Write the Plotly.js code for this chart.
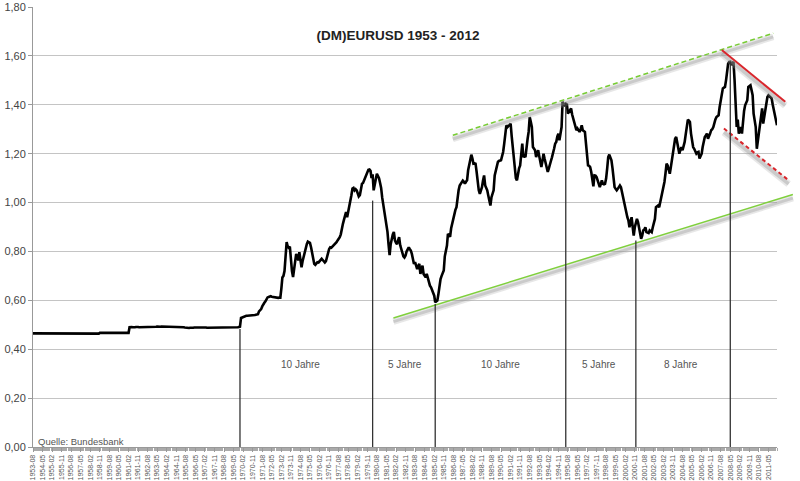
<!DOCTYPE html>
<html><head><meta charset="utf-8">
<script src="https://cdn.plot.ly/plotly-3.0.1.min.js"></script>
<style>html,body{margin:0;padding:0;background:#fff}#chart{width:800px;height:481px}</style>
</head><body><div id="chart"></div>
<script>
// ---- data (monthly, USD per EUR / DM equivalent), first month 1953-08 ----
const startMonth = [1953, 8];
const rate1950s = [
 0.465,0.465,0.465,0.465,0.465,
 0.465,0.465,0.465,0.465,0.465,0.465,0.465,0.465,0.465,0.465,0.465,0.465,
 0.465,0.465,0.465,0.465,0.462,0.462,0.462,0.462,0.462,0.462,0.462,0.462,
 0.462,0.462,0.462,0.462,0.462,0.462,0.462,0.464,0.464,0.464,0.464,0.464,
 0.464,0.464,0.464,0.464,0.464,0.464,0.464,0.464,0.464,0.464,0.464,0.464,
 0.464,0.464,0.464,0.464,0.464,0.464,0.464,0.464,0.464,0.464,0.467,0.467,
 0.467,0.467,0.467,0.467,0.467,0.467,0.467,0.467,0.467,0.467,0.467,0.467
];
const rate1960s = [
 0.467,0.467,0.467,0.467,0.467,0.467,0.467,0.467,0.467,0.467,0.467,0.467,
 0.467,0.467,0.490,0.492,0.491,0.490,0.489,0.490,0.491,0.492,0.491,0.490,
 0.490,0.490,0.491,0.492,0.491,0.490,0.490,0.489,0.489,0.489,0.490,0.490,
 0.491,0.492,0.492,0.492,0.493,0.492,0.492,0.492,0.493,0.493,0.492,0.492,
 0.493,0.493,0.493,0.492,0.492,0.493,0.493,0.493,0.492,0.492,0.493,0.493,
 0.493,0.492,0.491,0.490,0.490,0.490,0.489,0.488,0.488,0.488,0.487,0.488,
 0.487,0.487,0.488,0.489,0.489,0.489,0.490,0.491,0.491,0.492,0.492,0.491,
 0.490,0.489,0.489,0.488,0.488,0.488,0.487,0.487,0.488,0.488,0.489,0.489,
 0.488,0.487,0.488,0.489,0.488,0.487,0.488,0.489,0.490,0.489,0.487,0.488,
 0.489,0.488,0.488,0.489,0.490,0.489,0.488,0.489,0.490,0.491,0.492,0.528
];
const rate1970s = [
 0.530,0.531,0.535,0.537,0.537,0.537,0.537,0.538,0.538,0.538,0.538,0.539,
 0.540,0.541,0.541,0.543,0.555,0.560,0.564,0.575,0.585,0.590,0.596,0.605,
 0.612,0.614,0.616,0.617,0.615,0.614,0.612,0.611,0.612,0.610,0.610,0.611,
 0.611,0.650,0.694,0.700,0.720,0.780,0.838,0.820,0.815,0.820,0.760,0.720,
 0.695,0.730,0.760,0.790,0.780,0.763,0.797,0.770,0.735,0.760,0.780,0.790,
 0.810,0.831,0.840,0.838,0.835,0.817,0.790,0.763,0.749,0.745,0.750,0.756,
 0.755,0.760,0.765,0.770,0.765,0.760,0.755,0.760,0.780,0.804,0.810,0.817,
 0.815,0.820,0.824,0.825,0.830,0.838,0.845,0.850,0.858,0.870,0.886,0.913,
 0.930,0.955,0.961,0.940,0.960,0.988,1.009,1.030,1.057,1.060,1.050,1.055,
 1.050,1.040,1.025,1.030,1.050,1.077,1.080,1.090,1.104,1.110,1.120,1.134
];
const rate1980s = [
 1.135,1.130,1.100,1.115,1.050,1.080,1.095,1.118,1.110,1.100,1.080,1.060,
 1.020,0.990,0.975,0.930,0.900,0.880,0.830,0.785,0.830,0.860,0.870,0.880,
 0.845,0.835,0.830,0.845,0.858,0.825,0.810,0.790,0.780,0.775,0.783,0.800,
 0.810,0.817,0.810,0.804,0.790,0.770,0.749,0.756,0.740,0.728,0.740,0.749,
 0.708,0.725,0.742,0.708,0.700,0.694,0.708,0.690,0.674,0.660,0.653,0.640,
 0.630,0.619,0.592,0.596,0.599,0.626,0.660,0.687,0.700,0.715,0.722,0.780,
 0.800,0.824,0.872,0.865,0.860,0.895,0.913,0.940,0.961,0.970,0.981,1.020,
 1.050,1.070,1.075,1.080,1.090,1.085,1.077,1.085,1.091,1.132,1.160,1.180,
 1.196,1.180,1.159,1.160,1.159,1.125,1.080,1.050,1.036,1.050,1.063,1.090,
 1.111,1.070,1.060,1.050,1.029,1.005,0.988,1.022,1.035,1.050,1.111,1.130
];
const rate1990s = [
 1.145,1.166,1.170,1.173,1.173,1.190,1.207,1.241,1.280,1.316,1.309,1.315,
 1.320,1.323,1.275,1.230,1.186,1.132,1.100,1.091,1.125,1.140,1.152,1.200,
 1.241,1.186,1.190,1.186,1.241,1.260,1.289,1.350,1.330,1.309,1.227,1.220,
 1.214,1.186,1.200,1.214,1.190,1.173,1.145,1.170,1.200,1.180,1.160,1.145,
 1.125,1.140,1.159,1.170,1.185,1.200,1.220,1.241,1.248,1.270,1.282,1.255,
 1.280,1.309,1.412,1.405,1.398,1.400,1.405,1.364,1.370,1.378,1.385,1.360,
 1.344,1.330,1.310,1.296,1.303,1.295,1.289,1.300,1.316,1.296,1.290,1.289,
 1.241,1.200,1.152,1.150,1.145,1.125,1.090,1.066,1.111,1.110,1.104,1.090,
 1.084,1.063,1.075,1.091,1.077,1.075,1.077,1.098,1.140,1.186,1.196,1.185,
 1.173,1.140,1.104,1.063,1.056,1.050,1.056,1.065,1.070,1.063,1.040,1.022
];
const rate2000s = [
 0.995,0.975,0.954,0.940,0.927,0.899,0.920,0.940,0.900,0.865,0.899,0.915,
 0.933,0.920,0.900,0.886,0.852,0.865,0.886,0.890,0.899,0.879,0.877,0.875,
 0.886,0.882,0.879,0.899,0.915,0.933,0.981,0.985,0.988,0.981,1.000,1.022,
 1.040,1.063,1.084,1.120,1.159,1.152,1.130,1.118,1.145,1.170,1.200,1.230,
 1.261,1.268,1.245,1.227,1.200,1.215,1.227,1.214,1.230,1.248,1.280,1.309,
 1.339,1.335,1.330,1.282,1.250,1.227,1.220,1.210,1.200,1.205,1.207,1.180,
 1.190,1.200,1.227,1.250,1.268,1.275,1.282,1.261,1.270,1.282,1.296,1.300,
 1.309,1.330,1.340,1.350,1.355,1.357,1.391,1.420,1.453,1.467,1.470,1.473,
 1.501,1.530,1.569,1.575,1.576,1.562,1.570,1.576,1.501,1.400,1.309,1.339,
 1.282,1.295,1.309,1.282,1.350,1.375,1.398,1.410,1.419,1.473,1.475,1.480
];
const rate2010s = [
 1.460,1.439,1.364,1.340,1.309,1.220,1.250,1.282,1.330,1.360,1.385,1.323,
 1.350,1.385,1.410,1.432,1.439,1.435,1.432,1.426,1.400,1.378,1.371,1.340,
 1.316
];
const rateSeries = [].concat(rate1950s, rate1960s, rate1970s, rate1980s, rate1990s, rate2000s, rate2010s);
const monthDates = rateSeries.map((_, i) => {
  const t = startMonth[1] - 1 + i;
  const y = startMonth[0] + Math.floor(t / 12);
  const m = t % 12 + 1;
  return y + '-' + String(m).padStart(2, '0') + '-01';
});

// cycle markers (vertical lines) and their labels
const cycleDates = ['1969-11-01','1980-04-01','1985-03-01','1995-06-01','2000-12-01','2008-05-01'];
const cycleTops  = [0.483, 1.008, 0.585, 1.41, 0.845, 1.576];
const cycleLabels = ['10 Jahre','5 Jahre','10 Jahre','5 Jahre','8 Jahre'];
const cycleLabelDates = ['1974-07-20','1982-10-18','1990-04-06','1998-01-15','2004-06-21'];
const cycleLabelLevel = 0.337;

// trend channel lines (start/end)
const upperGreenDates = ['1986-07-19','2011-09-15'];
const upperGreenVals  = [1.275, 1.693];
const lowerGreenDates = ['1981-11-19','2013-04-01'];
const lowerGreenVals  = [0.528, 1.033];
const redTopDates = ['2007-09-01','2012-08-25'];
const redTopVals  = [1.624, 1.412];
const redLowDates = ['2007-11-01','2012-11-28'];
const redLowVals  = [1.303, 1.091];

// ---- layout geometry ----
const W = 800, H = 481, plotLeft = 33, plotRight = 777;
const D = (plotRight - plotLeft) / (W - plotLeft);
const xStart = '1953-08-01', xEnd = '2012-01-01';
const r0 = Date.parse(xStart), r1 = Date.parse(xEnd);
const r2 = r0 + (r1 - r0) / D;
const x2End = new Date(r2).toISOString().replace('T', ' ').slice(0, 19);
const FONT = 'Liberation Sans, Arial, sans-serif';

function shadow(vals) { return vals.map(v => v - 0.015); }
function trend(dates, vals, color, width, dash) {
  return [
    {x: dates, y: shadow(vals), xaxis: 'x2', yaxis: 'y2', mode: 'lines', hoverinfo: 'skip', showlegend: false,
     line: {color: 'rgba(170,170,170,0.28)', width: width + 5}},
    {x: dates, y: shadow(vals), xaxis: 'x2', yaxis: 'y2', mode: 'lines', hoverinfo: 'skip', showlegend: false,
     line: {color: 'rgba(150,150,150,0.35)', width: width + 1.5}},
    {x: dates, y: vals, xaxis: 'x2', yaxis: 'y2', mode: 'lines', hoverinfo: 'skip', showlegend: false,
     line: {color: color, width: width, dash: dash || 'solid'}}
  ];
}

const traces = [
  {x: monthDates, y: rateSeries, mode: 'lines', name: 'EURUSD', showlegend: false,
   line: {color: '#000000', width: 2.6}, xaxis: 'x', yaxis: 'y'}
].concat(
  trend(upperGreenDates, upperGreenVals, '#77cc33', 1.5, '5px,3px'),
  trend(lowerGreenDates, lowerGreenVals, '#7fd03c', 1.5),
  trend(redTopDates, redTopVals, '#d9262c', 2),
  trend(redLowDates, redLowVals, '#d9262c', 2, '4px,3px')
);

const shapes = cycleDates.map((d, i) => ({
  type: 'line', xref: 'x', yref: 'y', x0: d, x1: d, y0: 0, y1: cycleTops[i],
  line: {color: '#333333', width: 1.3}, layer: 'above'
}));

const annotations = cycleLabels.map((t, i) => ({
  text: t, xref: 'x', yref: 'y', x: cycleLabelDates[i], y: cycleLabelLevel,
  showarrow: false, font: {family: FONT, size: 10, color: '#555555'}
})).concat([{
  text: 'Quelle: Bundesbank', xref: 'paper', yref: 'paper', x: 0.004, y: 0.0136,
  xanchor: 'left', yanchor: 'middle', showarrow: false,
  font: {family: FONT, size: 9.5, color: '#555555'}
}]);

const layout = {
  width: W, height: H,
  margin: {l: plotLeft, r: 0, t: 7, b: 34, pad: 0},
  paper_bgcolor: '#ffffff', plot_bgcolor: 'rgba(0,0,0,0)',
  separators: ',.',
  showlegend: false,
  title: {text: '<b>(DM)EURUSD 1953 - 2012</b>', x: 398 / W, xref: 'container', xanchor: 'center',
          y: 1 - 35 / H, yref: 'container', yanchor: 'middle',
          font: {family: FONT, size: 13.5, color: '#222222'}},
  xaxis: {
    type: 'date', domain: [0, D], range: [xStart, xEnd], anchor: 'y',
    tick0: '1953-08-01', dtick: 'M9', tickformat: '%Y-%m', tickangle: -90,
    tickfont: {family: FONT, size: 7, color: '#555555'},
    ticks: 'outside', ticklen: 4, tickcolor: '#999999',
    minor: {dtick: 'M1', ticks: 'outside', ticklen: 3, tickcolor: '#aaaaaa', showgrid: false},
    showgrid: false, showline: true, linecolor: '#999999', linewidth: 1, zeroline: false, fixedrange: true
  },
  yaxis: {
    range: [0, 1.8], tick0: 0, dtick: 0.2, tickformat: '.2f', anchor: 'x',
    tickfont: {family: FONT, size: 11, color: '#444444'},
    ticks: 'outside', ticklen: 4, tickcolor: '#999999',
    showgrid: true, gridcolor: '#c4c4c4', gridwidth: 1,
    showline: true, linecolor: '#999999', linewidth: 1, zeroline: false, fixedrange: true
  },
  xaxis2: {type: 'date', domain: [0, 1], range: [xStart, x2End], anchor: 'y2', visible: false, fixedrange: true},
  yaxis2: {domain: [0, 1], range: [0, 1.8], anchor: 'x2', visible: false, fixedrange: true},
  shapes: shapes,
  annotations: annotations
};

Plotly.newPlot('chart', traces, layout, {displayModeBar: false, staticPlot: true});
</script>
</body></html>
